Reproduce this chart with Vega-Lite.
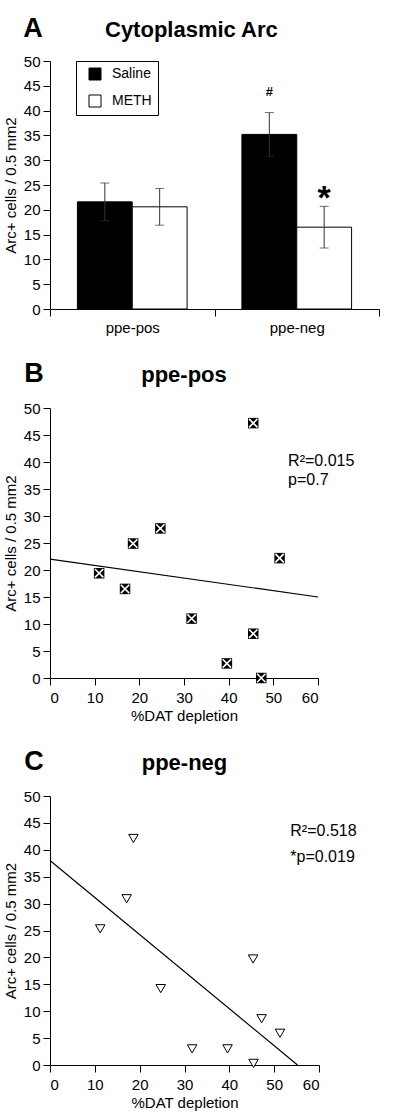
{
  "$schema": "https://vega.github.io/schema/vega-lite/v6.json",
  "padding": {"left": 3, "top": 15, "right": 5, "bottom": 5},
  "spacing": 25,
  "config": {
    "font": "Liberation Sans",
    "view": {"stroke": null},
    "axis": {
      "labelFont": "Liberation Sans",
      "titleFont": "Liberation Sans",
      "labelFontSize": 15,
      "titleFontSize": 15,
      "titleFontWeight": "normal",
      "labelColor": "black",
      "titleColor": "black",
      "domainColor": "black",
      "tickColor": "black",
      "tickSize": 7,
      "grid": false,
      "labelPadding": 3,
      "titlePadding": 5
    },
    "title": {"color": "black", "font": "Liberation Sans"}
  },
  "datasets": {
    "bars": [
      {"group": "ppe-pos", "treatment": "Saline", "mean": 21.6, "lo": 17.8, "hi": 25.4},
      {"group": "ppe-pos", "treatment": "METH", "mean": 20.6, "lo": 16.9, "hi": 24.3},
      {"group": "ppe-neg", "treatment": "Saline", "mean": 35.2, "lo": 30.8, "hi": 39.6},
      {"group": "ppe-neg", "treatment": "METH", "mean": 16.5, "lo": 12.3, "hi": 20.7}
    ],
    "sig": [
      {"group": "ppe-neg", "treatment": "Saline", "sig": "#", "hi": 39.6},
      {"group": "ppe-neg", "treatment": "METH", "sig": "*", "hi": 20.7}
    ],
    "pos": [
      {"dat": 11.0, "arc": 19.4}, {"dat": 16.8, "arc": 16.5}, {"dat": 18.6, "arc": 24.9},
      {"dat": 24.7, "arc": 27.7}, {"dat": 31.7, "arc": 11.0}, {"dat": 39.6, "arc": 2.7},
      {"dat": 45.5, "arc": 47.2}, {"dat": 45.5, "arc": 8.2}, {"dat": 47.3, "arc": 0},
      {"dat": 51.4, "arc": 22.2}
    ],
    "neg": [
      {"dat": 11.2, "arc": 25.3}, {"dat": 17.1, "arc": 30.9}, {"dat": 18.6, "arc": 42.1},
      {"dat": 24.7, "arc": 14.2}, {"dat": 31.7, "arc": 3.0}, {"dat": 39.6, "arc": 3.0},
      {"dat": 45.3, "arc": 19.7}, {"dat": 45.4, "arc": 0.3}, {"dat": 47.2, "arc": 8.6},
      {"dat": 51.3, "arc": 5.9}
    ],
    "posFit": [{"dat": 0, "arc": 22.0}, {"dat": 60, "arc": 15.0}],
    "negFit": [{"dat": 0, "arc": 38.0}, {"dat": 55.2, "arc": 0}],
    "posStats": [
      {"dat": 53.3, "arc": 39.3, "label": "R²=0.015"},
      {"dat": 53.3, "arc": 35.7, "label": "p=0.7"}
    ],
    "negStats": [
      {"dat": 53.6, "arc": 42.6, "label": "R²=0.518"},
      {"dat": 53.6, "arc": 37.8, "label": "*p=0.019"}
    ]
  },
  "vconcat": [
    {
      "title": {"text": "A", "anchor": "start", "frame": "bounds", "fontSize": 27, "fontWeight": "bold", "offset": 0, "dy": 24, "dx": 20},
      "vconcat": [
        {
          "width": 329,
          "height": 248,
          "title": {"text": "Cytoplasmic Arc", "fontSize": 22, "fontWeight": "bold", "anchor": "middle", "frame": "bounds", "offset": 12},
          "layer": [
            {
              "data": {"name": "bars"},
              "mark": {"type": "bar", "stroke": "black", "strokeWidth": 1},
              "encoding": {
                "x": {"field": "group", "type": "nominal", "sort": ["ppe-pos", "ppe-neg"],
                      "scale": {"paddingInner": 0, "paddingOuter": 0},
                      "axis": {"title": null, "labelAngle": 0, "tickBand": "extent", "labelPadding": 4}},
                "xOffset": {"field": "treatment", "type": "nominal", "sort": ["Saline", "METH"],
                            "scale": {"paddingInner": 0, "paddingOuter": 0.5}},
                "y": {"field": "mean", "type": "quantitative", "title": "Arc+ cells / 0.5 mm2",
                      "scale": {"domain": [0, 50]},
                      "axis": {"values": [0, 5, 10, 15, 20, 25, 30, 35, 40, 45, 50], "labelOverlap": false}},
                "color": {"field": "treatment", "type": "nominal",
                          "scale": {"domain": ["Saline", "METH"], "range": ["black", "white"]},
                          "legend": {"title": null, "orient": "none", "legendX": 26, "legendY": 0,
                                     "strokeColor": "black", "padding": 6, "symbolOffset": 6, "symbolType": "square",
                                     "symbolSize": 144, "symbolStrokeColor": "black", "symbolStrokeWidth": 1,
                                     "labelFontSize": 14, "labelColor": "black", "rowPadding": 11, "labelOffset": 10}}
              }
            },
            {
              "data": {"name": "bars"},
              "mark": {"type": "rule", "color": "#333333", "strokeWidth": 1},
              "encoding": {
                "x": {"field": "group", "type": "nominal", "sort": ["ppe-pos", "ppe-neg"]},
                "xOffset": {"field": "treatment", "type": "nominal", "sort": ["Saline", "METH"]},
                "y": {"field": "lo", "type": "quantitative", "title": "Arc+ cells / 0.5 mm2",
                      "axis": {"values": [0, 5, 10, 15, 20, 25, 30, 35, 40, 45, 50], "labelOverlap": false}},
                "y2": {"field": "hi"}
              }
            },
            {
              "data": {"name": "bars"},
              "mark": {"type": "tick", "color": "#333333", "size": 9, "thickness": 1, "orient": "horizontal"},
              "encoding": {
                "x": {"field": "group", "type": "nominal", "sort": ["ppe-pos", "ppe-neg"]},
                "xOffset": {"field": "treatment", "type": "nominal", "sort": ["Saline", "METH"]},
                "y": {"field": "hi", "type": "quantitative", "title": "Arc+ cells / 0.5 mm2",
                      "axis": {"values": [0, 5, 10, 15, 20, 25, 30, 35, 40, 45, 50], "labelOverlap": false}}
              }
            },
            {
              "data": {"name": "bars"},
              "mark": {"type": "tick", "color": "#333333", "size": 9, "thickness": 1, "orient": "horizontal"},
              "encoding": {
                "x": {"field": "group", "type": "nominal", "sort": ["ppe-pos", "ppe-neg"]},
                "xOffset": {"field": "treatment", "type": "nominal", "sort": ["Saline", "METH"]},
                "y": {"field": "lo", "type": "quantitative", "title": "Arc+ cells / 0.5 mm2",
                      "axis": {"values": [0, 5, 10, 15, 20, 25, 30, 35, 40, 45, 50], "labelOverlap": false}}
              }
            },
            {
              "data": {"name": "sig"},
              "transform": [{"filter": "datum.sig === '#'"}],
              "mark": {"type": "text", "fontSize": 13, "fontWeight": "bold", "baseline": "alphabetic", "dy": -17, "color": "black"},
              "encoding": {
                "x": {"field": "group", "type": "nominal", "sort": ["ppe-pos", "ppe-neg"]},
                "xOffset": {"field": "treatment", "type": "nominal", "sort": ["Saline", "METH"]},
                "y": {"field": "hi", "type": "quantitative", "title": "Arc+ cells / 0.5 mm2",
                      "axis": {"values": [0, 5, 10, 15, 20, 25, 30, 35, 40, 45, 50], "labelOverlap": false}},
                "text": {"field": "sig"}
              }
            },
            {
              "data": {"name": "sig"},
              "transform": [{"filter": "datum.sig === '*'"}],
              "mark": {"type": "text", "fontSize": 34, "fontWeight": "bold", "baseline": "alphabetic", "dy": 3, "color": "black"},
              "encoding": {
                "x": {"field": "group", "type": "nominal", "sort": ["ppe-pos", "ppe-neg"]},
                "xOffset": {"field": "treatment", "type": "nominal", "sort": ["Saline", "METH"]},
                "y": {"field": "hi", "type": "quantitative", "title": "Arc+ cells / 0.5 mm2",
                      "axis": {"values": [0, 5, 10, 15, 20, 25, 30, 35, 40, 45, 50], "labelOverlap": false}},
                "text": {"field": "sig"}
              }
            }
          ]
        }
      ]
    },
    {
      "title": {"text": "B", "anchor": "start", "frame": "bounds", "fontSize": 27, "fontWeight": "bold", "offset": 0, "dy": 24, "dx": 21},
      "vconcat": [
        {
          "width": 268,
          "height": 270,
          "title": {"text": "ppe-pos", "fontSize": 22, "fontWeight": "bold", "anchor": "middle", "frame": "group", "offset": 14},
          "encoding": {
            "x": {"field": "dat", "type": "quantitative", "title": "%DAT depletion",
                  "scale": {"domain": [0, 60]}, "axis": {"values": [0, 10, 20, 30, 40, 50, 60], "labelPadding": 5, "titlePadding": 3}},
            "y": {"field": "arc", "type": "quantitative", "title": "Arc+ cells / 0.5 mm2",
                  "scale": {"domain": [0, 50]}, "axis": {"values": [0, 5, 10, 15, 20, 25, 30, 35, 40, 45, 50], "labelOverlap": false}}
          },
          "layer": [
            {
              "data": {"name": "posFit"},
              "mark": {"type": "line", "color": "black", "strokeWidth": 1.2}
            },
            {
              "data": {"name": "pos"},
              "mark": {"type": "point", "shape": "square", "filled": true, "color": "black", "size": 110, "opacity": 1}
            },
            {
              "data": {"name": "pos"},
              "mark": {"type": "point", "shape": "M-0.8,-0.8L0.8,0.8M-0.8,0.8L0.8,-0.8", "filled": false, "color": "white", "strokeWidth": 1.6, "size": 110, "opacity": 1}
            },
            {
              "data": {"name": "posStats"},
              "mark": {"type": "text", "fontSize": 16, "align": "left", "baseline": "alphabetic", "color": "black"},
              "encoding": {"text": {"field": "label"}}
            }
          ]
        }
      ]
    },
    {
      "title": {"text": "C", "anchor": "start", "frame": "bounds", "fontSize": 27, "fontWeight": "bold", "offset": 0, "dy": 24, "dx": 21},
      "vconcat": [
        {
          "width": 269,
          "height": 269,
          "title": {"text": "ppe-neg", "fontSize": 22, "fontWeight": "bold", "anchor": "middle", "frame": "group", "offset": 14},
          "encoding": {
            "x": {"field": "dat", "type": "quantitative", "title": "%DAT depletion",
                  "scale": {"domain": [0, 60]}, "axis": {"values": [0, 10, 20, 30, 40, 50, 60], "labelPadding": 5, "titlePadding": 3}},
            "y": {"field": "arc", "type": "quantitative", "title": "Arc+ cells / 0.5 mm2",
                  "scale": {"domain": [0, 50]}, "axis": {"values": [0, 5, 10, 15, 20, 25, 30, 35, 40, 45, 50], "labelOverlap": false}}
          },
          "layer": [
            {
              "data": {"name": "negFit"},
              "mark": {"type": "line", "color": "black", "strokeWidth": 1.2}
            },
            {
              "data": {"name": "neg"},
              "mark": {"type": "point", "shape": "triangle-down", "filled": true, "fill": "white", "stroke": "black", "strokeWidth": 1, "size": 90, "opacity": 1}
            },
            {
              "data": {"name": "negStats"},
              "mark": {"type": "text", "fontSize": 16, "align": "left", "baseline": "alphabetic", "color": "black"},
              "encoding": {"text": {"field": "label"}}
            }
          ]
        }
      ]
    }
  ]
}
